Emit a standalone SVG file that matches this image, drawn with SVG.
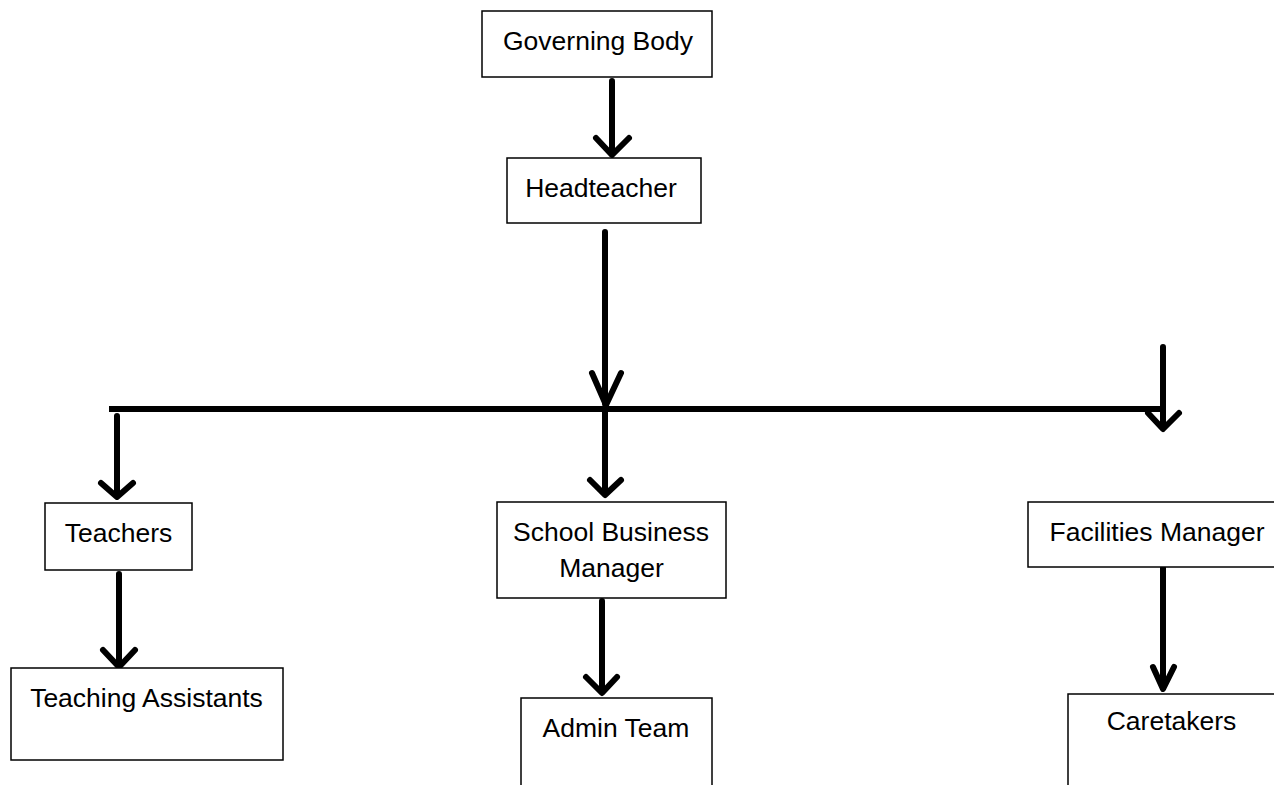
<svg xmlns="http://www.w3.org/2000/svg" width="1274" height="785" viewBox="0 0 1274 785">
<style>
.box{fill:#fff;stroke:#000;stroke-width:1.5}
.lbl{font-family:"Liberation Sans",Arial,sans-serif;font-size:26.5px;fill:#000;text-anchor:middle}
.c{fill:none;stroke:#000;stroke-width:6;stroke-linecap:round;stroke-linejoin:round}
</style>
<rect width="1274" height="785" fill="#fff"/>
<g id="connectors">
<path class="c" d="M612,81 V153 M596,138 L612,155 L629,138"/>
<path class="c" d="M605,232 V404 M592,373 L606,405 L621,373"/>
<path class="c" d="M109,409 H1160" style="stroke-linecap:butt"/>
<path class="c" d="M1163,347 V428 M1148,413 L1163,429 L1179,413"/>
<path class="c" d="M117,416 V496 M101,483 L117,497 L133,483"/>
<path class="c" d="M605,410 V494 M590,480 L605,495 L621,480"/>
<path class="c" d="M119,574 V666 M103,650 L119,667 L135,650"/>
<path class="c" d="M602,601 V692 M586,677 L602,693 L617,677"/>
<path class="c" d="M1163,568 V688 M1153,667 L1163,689 L1174,667"/>
</g>
<g id="governing-body">
<rect class="box" x="482" y="11" width="230" height="66"/>
<text class="lbl" x="598" y="50">Governing Body</text>
</g>
<g id="headteacher">
<rect class="box" x="507" y="158" width="194" height="65"/>
<text class="lbl" x="601" y="197">Headteacher</text>
</g>
<g id="teachers">
<rect class="box" x="45" y="503" width="147" height="67"/>
<text class="lbl" x="118.5" y="542">Teachers</text>
</g>
<g id="teaching-assistants">
<rect class="box" x="11" y="668" width="272" height="92"/>
<text class="lbl" x="146.5" y="707">Teaching Assistants</text>
</g>
<g id="school-business-manager">
<rect class="box" x="497" y="502" width="229" height="96"/>
<text class="lbl" x="611" y="541">School Business</text>
<text class="lbl" x="611.5" y="577">Manager</text>
</g>
<g id="admin-team">
<rect class="box" x="521" y="698" width="191" height="100"/>
<text class="lbl" x="616" y="737">Admin Team</text>
</g>
<g id="facilities-manager">
<rect class="box" x="1028" y="502" width="260" height="65"/>
<text class="lbl" x="1157" y="541">Facilities Manager</text>
</g>
<g id="caretakers">
<rect class="box" x="1068" y="694" width="220" height="100"/>
<text class="lbl" x="1171.5" y="730">Caretakers</text>
</g>
</svg>
